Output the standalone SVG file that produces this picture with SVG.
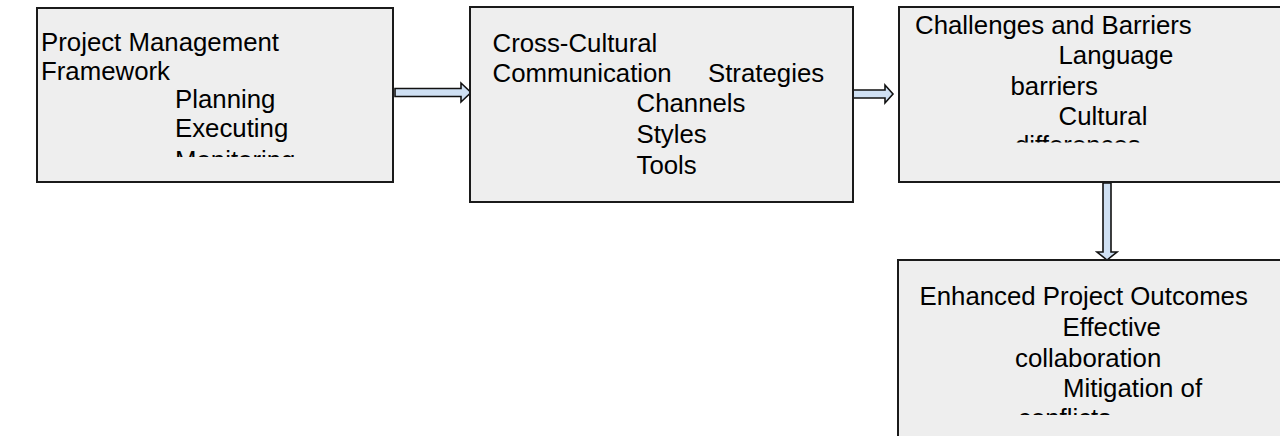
<svg xmlns="http://www.w3.org/2000/svg" width="1280" height="436" viewBox="0 0 1280 436">
  <style>
    .box { fill: #eeeeee; stroke: #1a1a1a; stroke-width: 2; }
    .lbl { font-family: "Liberation Sans", Arial, sans-serif; font-size: 25.8px; fill: #000000; }
    .arrow { fill: #cfe0f3; stroke: #111111; stroke-width: 1.6; stroke-linejoin: miter; }
  </style>
  <defs>
    <clipPath id="clip-pm"><rect x="37" y="8" width="356" height="149"/></clipPath>
    <clipPath id="clip-cb"><rect x="899" y="8" width="381" height="134.5"/></clipPath>
    <clipPath id="clip-ep"><rect x="898" y="261" width="382" height="154"/></clipPath>
  </defs>
  <rect width="1280" height="436" fill="#ffffff"/>

  <!-- connectors -->
  <g id="connectors">
    <polygon class="arrow" points="395,88.5 461,88.5 461,83 471,92.5 461,102 461,96.5 395,96.5"/>
    <polygon class="arrow" points="853,90 885,90 885,85 893,94 885,103 885,98 853,98"/>
    <polygon class="arrow" points="1103,183 1111,183 1111,252 1117,252 1107,260 1097,252 1103,252"/>
  </g>

  <g id="node-project-management">
    <rect class="box" x="37" y="8" width="356" height="174"/>
    <g clip-path="url(#clip-pm)">
      <text class="lbl" x="41" y="51">Project Management</text>
      <text class="lbl" x="41" y="79.5">Framework</text>
      <text class="lbl" x="175" y="108.3">Planning</text>
      <text class="lbl" x="175" y="137">Executing</text>
      <text class="lbl" x="175" y="168.5">Monitoring</text>
    </g>
  </g>

  <g id="node-communication">
    <rect class="box" x="470" y="7" width="383" height="195"/>
    <text class="lbl" x="492.5" y="51.7">Cross-Cultural</text>
    <text class="lbl" x="492.5" y="82.3">Communication</text>
    <text class="lbl" x="708" y="82.3">Strategies</text>
    <text class="lbl" x="636.5" y="112">Channels</text>
    <text class="lbl" x="636.5" y="142.5">Styles</text>
    <text class="lbl" x="636.5" y="173.5">Tools</text>
  </g>

  <g id="node-challenges">
    <rect class="box" x="899" y="7" width="390" height="175"/>
    <g clip-path="url(#clip-cb)">
      <text class="lbl" x="915" y="34">Challenges and Barriers</text>
      <text class="lbl" x="1058.5" y="64">Language</text>
      <text class="lbl" x="1010.5" y="94.5">barriers</text>
      <text class="lbl" x="1058.5" y="125">Cultural</text>
      <text class="lbl" x="1015" y="154">differences</text>
    </g>
  </g>

  <g id="node-outcomes">
    <rect class="box" x="898" y="260" width="392" height="190"/>
    <g clip-path="url(#clip-ep)">
      <text class="lbl" x="919.5" y="305">Enhanced Project Outcomes</text>
      <text class="lbl" x="1062.5" y="336">Effective</text>
      <text class="lbl" x="1015" y="366.7">collaboration</text>
      <text class="lbl" x="1063" y="397.3">Mitigation of</text>
      <text class="lbl" x="1018" y="427">conflicts</text>
    </g>
  </g>
</svg>
